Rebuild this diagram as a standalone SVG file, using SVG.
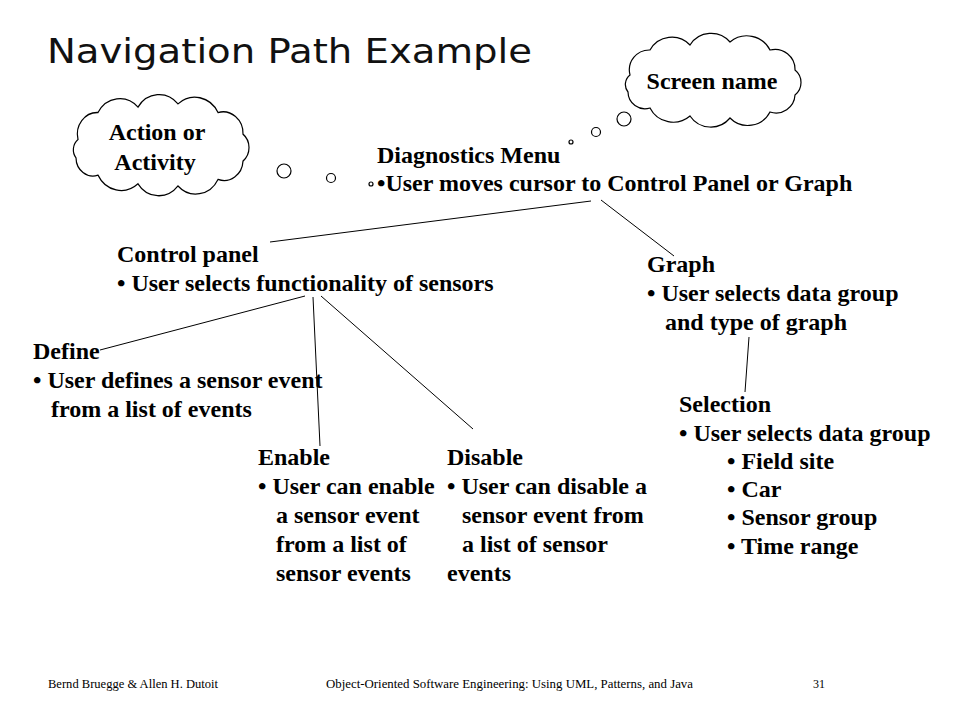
<svg xmlns="http://www.w3.org/2000/svg" width="960" height="720" viewBox="0 0 960 720">
<style>
.t{font-family:"Liberation Serif","Times New Roman",serif;font-weight:bold;font-size:24px;fill:#000}
.title{font-family:"DejaVu Sans","Liberation Sans",sans-serif;font-size:34px;fill:#111}
.foot{font-family:"Liberation Serif","Times New Roman",serif;font-size:12px;fill:#000}
.ln{stroke:#000;stroke-width:1;fill:none}
.cl{fill:#fff;stroke:#000;stroke-width:1.2}
.bub{fill:#fff;stroke:#000;stroke-width:1.2}
</style>
<defs>
<path id="cloud" d="M-82,-6 A20,20 0 0 1 -62,-31 A25,25 0 0 1 -22,-36 A25,25 0 0 1 18,-39 A26,26 0 0 1 58,-31 A20,20 0 0 1 83,-11 A16,16 0 0 1 83,14 A19,19 0 0 1 58,31 A25,25 0 0 1 18,37 A25,25 0 0 1 -22,35 A26,26 0 0 1 -62,27 A17,17 0 0 1 -84,11 A12,12 0 0 1 -82,-6 Z"/>
</defs>
<rect width="960" height="720" fill="#fff"/>
<text class="title" x="47" y="63" textLength="485" lengthAdjust="spacingAndGlyphs">Navigation Path Example</text>

<g id="screen-name">
<use href="#cloud" class="cl" transform="translate(712,81)"/>
<text class="t" x="712" y="89" text-anchor="middle">Screen name</text>
<circle class="bub" cx="624" cy="119" r="7"/>
<circle class="bub" cx="596" cy="132" r="4.5"/>
<circle class="bub" cx="571" cy="142" r="2"/>
</g>

<g id="action">
<use href="#cloud" class="cl" transform="translate(160,146) scale(1,1.08)"/>
<text class="t" x="157" y="140" text-anchor="middle">Action or</text>
<text class="t" x="155" y="170" text-anchor="middle">Activity</text>
<circle class="bub" cx="284" cy="171" r="7"/>
<circle class="bub" cx="331" cy="178" r="4.5"/>
<circle class="bub" cx="371" cy="184" r="2"/>
</g>

<g id="connectors">
<line class="ln" x1="591" y1="201" x2="270" y2="242"/>
<line class="ln" x1="601" y1="200" x2="674" y2="256"/>
<line class="ln" x1="305" y1="296" x2="100" y2="350"/>
<line class="ln" x1="313" y1="297" x2="320" y2="446"/>
<line class="ln" x1="321" y1="296" x2="473" y2="429"/>
<line class="ln" x1="749" y1="337" x2="745" y2="392"/>
</g>

<g id="diagnostics">
<text class="t" x="377" y="163">Diagnostics Menu</text>
<text class="t" x="377" y="191">•User moves cursor to Control Panel or Graph</text>
</g>

<g id="control-panel">
<text class="t" x="117" y="262">Control panel</text>
<text class="t" x="117" y="291">• User selects functionality of sensors</text>
</g>

<g id="graph">
<text class="t" x="647" y="272">Graph</text>
<text class="t" x="647" y="301">• User selects data group</text>
<text class="t" x="665" y="330">and type of graph</text>
</g>

<g id="selection">
<text class="t" x="679" y="412">Selection</text>
<text class="t" x="679" y="441">• User selects data group</text>
<text class="t" x="727" y="469">• Field site</text>
<text class="t" x="727" y="497">• Car</text>
<text class="t" x="727" y="525">• Sensor group</text>
<text class="t" x="727" y="554">• Time range</text>
</g>

<g id="define">
<text class="t" x="33" y="359">Define</text>
<text class="t" x="33" y="388">• User defines a sensor event</text>
<text class="t" x="51" y="417">from a list of events</text>
</g>

<g id="enable">
<text class="t" x="258" y="465">Enable</text>
<text class="t" x="258" y="494">• User can enable</text>
<text class="t" x="276" y="523">a sensor event</text>
<text class="t" x="276" y="552">from a list of</text>
<text class="t" x="276" y="581">sensor events</text>
</g>

<g id="disable">
<text class="t" x="447" y="465">Disable</text>
<text class="t" x="447" y="494">• User can disable a</text>
<text class="t" x="462" y="523">sensor event from</text>
<text class="t" x="462" y="552">a list of sensor</text>
<text class="t" x="447" y="581">events</text>
</g>

<g id="footer">
<text class="foot" x="48" y="688" textLength="170" lengthAdjust="spacingAndGlyphs">Bernd Bruegge &amp; Allen H. Dutoit</text>
<text class="foot" x="326" y="688" textLength="367" lengthAdjust="spacingAndGlyphs">Object-Oriented Software Engineering: Using UML, Patterns, and Java</text>
<text class="foot" x="813" y="688">31</text>
</g>
</svg>
